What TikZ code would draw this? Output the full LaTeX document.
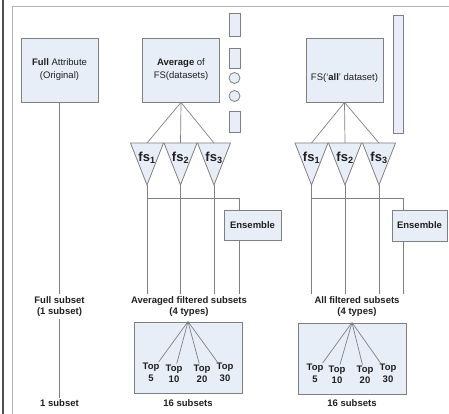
\documentclass[tikz,border=0pt]{standalone}
\usepackage{fontspec}
\setmainfont{Liberation Sans}
\usetikzlibrary{calc}

\definecolor{cajafondo}{RGB}{232,238,247}
\definecolor{borde}{RGB}{128,128,128}
\definecolor{marco}{RGB}{180,180,180}
\definecolor{oscuro}{RGB}{80,80,80}

\begin{document}
\begin{tikzpicture}[x=1pt,y=-1pt,line width=0.7pt,color=borde,text=black!88,
  forma/.style={draw=borde,fill=cajafondo,line width=0.8pt},
  caja/.style={forma,align=center,inner sep=0pt,font=\fontsize{9.5}{13}\selectfont},
  txt/.style={align=center,inner sep=1.5pt,font=\fontsize{9.5}{11.5}\selectfont\bfseries},
  fslab/.style={inner sep=0pt,font=\fontsize{13}{13}\selectfont\bfseries}]
  \useasboundingbox (0,0) rectangle (449,414);
  % marco
  \draw[oscuro,line width=1.2pt] (3,0) -- (3,414);
  \draw[marco,line width=0.8pt] (449,6) -- (12,6) -- (12,414);
  % cajas superiores
  \node[caja,minimum width=77pt,minimum height=64pt] (full) at (59.5,70) {\textbf{Full} Attribute\\(Original)};
  \node[caja,minimum width=77pt,minimum height=64pt] (avg) at (181,70) {\textbf{Average} of\\FS(datasets)};
  \node[caja,minimum width=77pt,minimum height=64pt] (all) at (344.5,70) {\strut\\FS(‘\textbf{all}’ dataset)};
  % columna de datasets
  \node[caja,minimum width=11pt,minimum height=23pt] (r1) at (234.5,24.5) {};
  \node[caja,minimum width=11pt,minimum height=20pt] (r2) at (234.5,58) {};
  \node[caja,circle,minimum size=11pt] (c1) at (234.5,78) {};
  \node[caja,circle,minimum size=11pt] (c2) at (234.5,96) {};
  \node[caja,minimum width=11pt,minimum height=21pt] (r3) at (234.5,121.5) {};
  \node[caja,minimum width=10pt,minimum height=118pt] (rall) at (398,74) {};
  % selectores fs
  \foreach \x/\n/\i in {147/a1/1,180.5/a2/2,214/a3/3,311.5/b1/1,345/b2/2,379/b3/3}{
    \draw[forma] (\x-16.5,143) -- (\x+16.5,143) -- (\x,185) -- cycle;
    \coordinate (\n t) at (\x,143);
    \coordinate (\n b) at (\x,185);
    \node[fslab] (\n) at (\x,158) {fs\textsubscript{\i}};
  }
  % ensemble
  \node[caja,font=\fontsize{9.5}{13}\selectfont\bfseries,minimum width=57pt,minimum height=30pt] (ens1) at (252.5,225) {Ensemble};
  \node[caja,font=\fontsize{9.5}{13}\selectfont\bfseries,minimum width=55pt,minimum height=31pt] (ens2) at (419.5,225.5) {Ensemble};
  % rotulos
  \node[txt] (fulls) at (59.5,306.5) {Full subset\\(1 subset)};
  \node[txt] (avgs) at (189,306.5) {Averaged filtered subsets\\(4 types)};
  \node[txt] (alls) at (357,306.5) {All filtered subsets\\(4 types)};
  % cajas inferiores
  \node[caja,minimum width=108pt,minimum height=71pt] (box1) at (188,357.5) {};
  \node[caja,minimum width=108pt,minimum height=71pt] (box2) at (352,358.5) {};
  \foreach \x/\y/\n/\k in {151/372.5/p1/5,174/374/p2/10,202/374/p3/20,225/372.5/p4/30}
    \node[txt,inner sep=1pt] (\n) at (\x,\y) {Top\\\k};
  \foreach \x/\y/\n/\k in {315/373.5/q1/5,337/375/q2/10,365/375/q3/20,388/373.5/q4/30}
    \node[txt,inner sep=1pt] (\n) at (\x,\y) {Top\\\k};
  \node[txt] (one) at (59.5,403) {1 subset};
  \node[txt] (s1) at (188,403) {16 subsets};
  \node[txt] (s2) at (352,403) {16 subsets};
  % conexiones
  \draw (full.south) -- (fulls.north);
  \draw (fulls.south) -- (one.north);
  \foreach \n in {a1,a2,a3}{
    \draw (avg.south) -- (\n t);
    \draw (\n b) -- (\n b|-avgs.north);
  }
  \foreach \n in {b1,b2,b3}{
    \draw (all.south) -- (\n t);
    \draw (\n b) -- (\n b|-alls.north);
  }
  \coordinate (j1) at (239,198);
  \coordinate (j2) at (403,198);
  \draw (a1b|-j1) -- (j1) -- (j1|-ens1.north);
  \draw (j1|-ens1.south) -- (j1|-avgs.north);
  \draw (b1b|-j2) -- (j2) -- (j2|-ens2.north);
  \draw (j2|-ens2.south) -- (j2|-alls.north);
  \foreach \n in {p1,p2,p3,p4} \draw (box1.north) -- (\n);
  \foreach \n in {q1,q2,q3,q4} \draw (box2.north) -- (\n);
\end{tikzpicture}
\end{document}
